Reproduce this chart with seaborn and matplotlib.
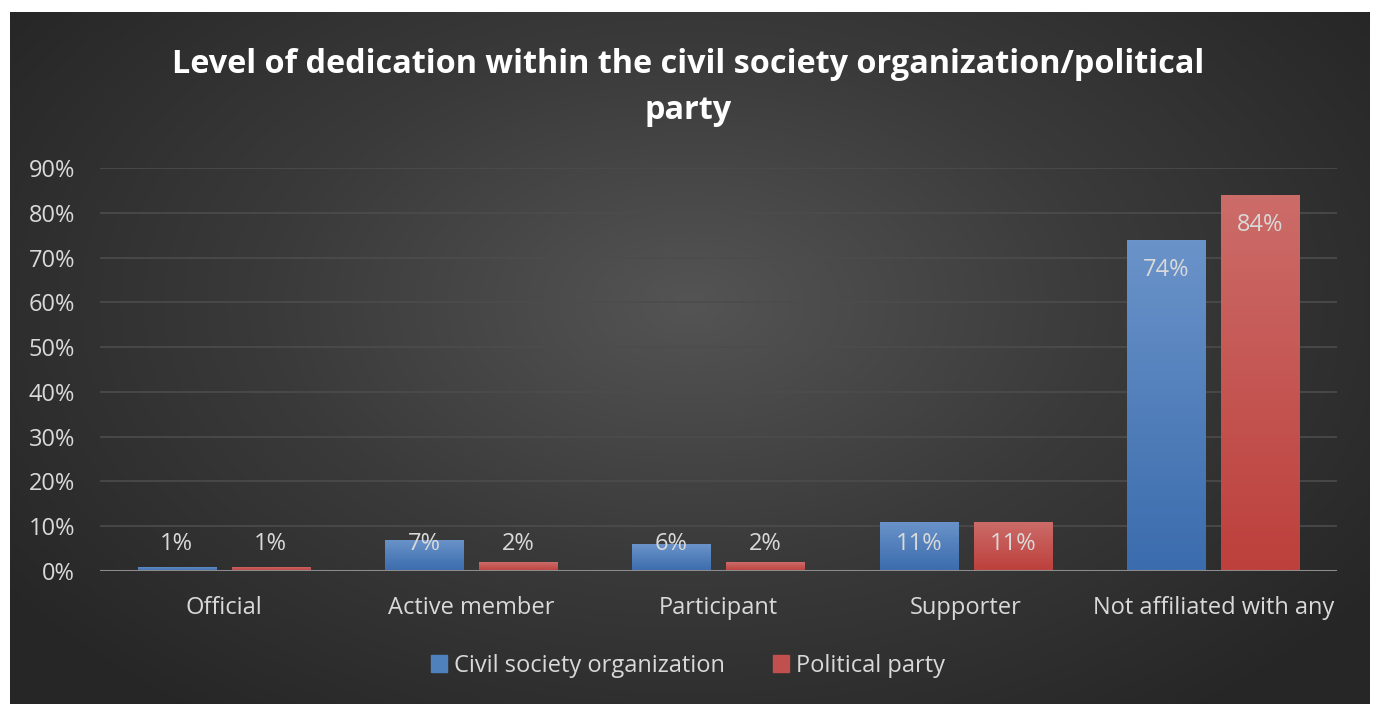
import numpy as np
import pandas as pd
import matplotlib
matplotlib.use("Agg")
import matplotlib.pyplot as plt
import matplotlib.patches as mpatches
from matplotlib.colors import LinearSegmentedColormap
import seaborn as sns

categories = ["Official", "Active member", "Participant", "Supporter", "Not affiliated with any"]
civil_society = [1, 7, 6, 11, 74]
political_party = [1, 2, 2, 11, 84]
series_names = ["Civil society organization", "Political party"]
y_ticks = [0, 10, 20, 30, 40, 50, 60, 70, 80, 90]
title = "Level of dedication within the civil society organization/political\nparty"

df = pd.DataFrame({
    "category": categories * 2,
    "value": civil_society + political_party,
    "series": [series_names[0]] * len(categories) + [series_names[1]] * len(categories),
})

BLUE = "#4f81bd"
RED = "#c0504d"
TXT = "#d9d9d9"
FS = 17

sns.set_theme(style="white")
plt.rcParams["font.family"] = ["Open Sans", "DejaVu Sans"]

fig = plt.figure(figsize=(13.76, 7.04), dpi=100)
fig.patch.set_facecolor("white")

# dark radial background panel
bg = fig.add_axes([10 / 1376, 0, 1360 / 1376, 692 / 704], zorder=-5)
h, w = 400, 800
yy, xx = np.mgrid[0:h, 0:w]
cx, cy = 0.5 * w, 0.42 * h
r = np.sqrt(((xx - cx) / (0.62 * w)) ** 2 + ((yy - cy) / (0.75 * h)) ** 2)
r = np.clip(r, 0, 1)
bgcmap = LinearSegmentedColormap.from_list("bg", ["#545454", "#3a3a3a", "#262626"])
bg.imshow(r, cmap=bgcmap, aspect="auto", extent=[0, 1, 0, 1], origin="upper")
bg.set_axis_off()

ax = fig.add_axes([100 / 1376, 1 - 571 / 704, 1237 / 1376, (571 - 168) / 704])
ax.set_facecolor("none")

sns.barplot(data=df, x="category", y="value", hue="series", order=categories,
            hue_order=series_names, palette=[BLUE, RED], width=0.76, gap=0.17,
            legend=False, ax=ax, zorder=3, linewidth=0)

ax.set_xlim(-0.5, len(categories) - 0.5)
ax.set_ylim(0, 90)
ax.set_yticks(y_ticks)
ax.set_yticklabels([f"{t}%" for t in y_ticks], color=TXT, fontsize=FS)
ax.tick_params(axis="x", colors=TXT, labelsize=FS, length=0, pad=18)
ax.tick_params(axis="y", length=0, pad=18)
ax.set_xlabel("")
ax.set_ylabel("")
for s in ax.spines.values():
    s.set_visible(False)
ax.grid(axis="y", color="#4c4c4c", linewidth=1.2, zorder=0)
ax.axhline(0, color="#8c8c8c", linewidth=2.2, zorder=4)

# gradient fill on bars
grads = {
    BLUE: LinearSegmentedColormap.from_list("b", ["#3b6cad", "#6a93c9"]),
    RED: LinearSegmentedColormap.from_list("r", ["#bd403c", "#cc6c69"]),
}
vals = civil_society + political_party
for i, p in enumerate(ax.patches[:len(vals)]):
    col = BLUE if i < len(categories) else RED
    x0, y0 = p.get_x(), p.get_y()
    bw, bh = p.get_width(), p.get_height()
    grad = np.linspace(0, 1, 100).reshape(-1, 1)
    im = ax.imshow(grad, cmap=grads[col], aspect="auto", origin="lower",
                   extent=[x0, x0 + bw, y0, y0 + bh], zorder=3.5)
    im.set_clip_path(p)
    v = vals[i]
    ly = max(v - 6.7, 6.0)
    ax.text(x0 + bw / 2, ly, f"{v}%", ha="center", va="center",
            color=TXT, fontsize=FS, zorder=6)
ax.set_xlim(-0.5, len(categories) - 0.5)
ax.set_ylim(0, 90)

fig.text(0.5, 1 - 87.5 / 704, title, ha="center", va="center", color="white",
         fontsize=23.3, fontweight="bold", linespacing=1.52)

handles = [mpatches.Patch(color=BLUE, label=series_names[0]),
           mpatches.Patch(color=RED, label=series_names[1])]
fig.legend(handles=handles, loc="center", bbox_to_anchor=(0.5, 1 - 666 / 704),
           ncol=2, frameon=False, fontsize=FS, labelcolor=TXT,
           handlelength=0.7, handleheight=0.7, handletextpad=0.3, columnspacing=2.0)

fig.savefig("out.png", dpi=100, facecolor=fig.get_facecolor())
